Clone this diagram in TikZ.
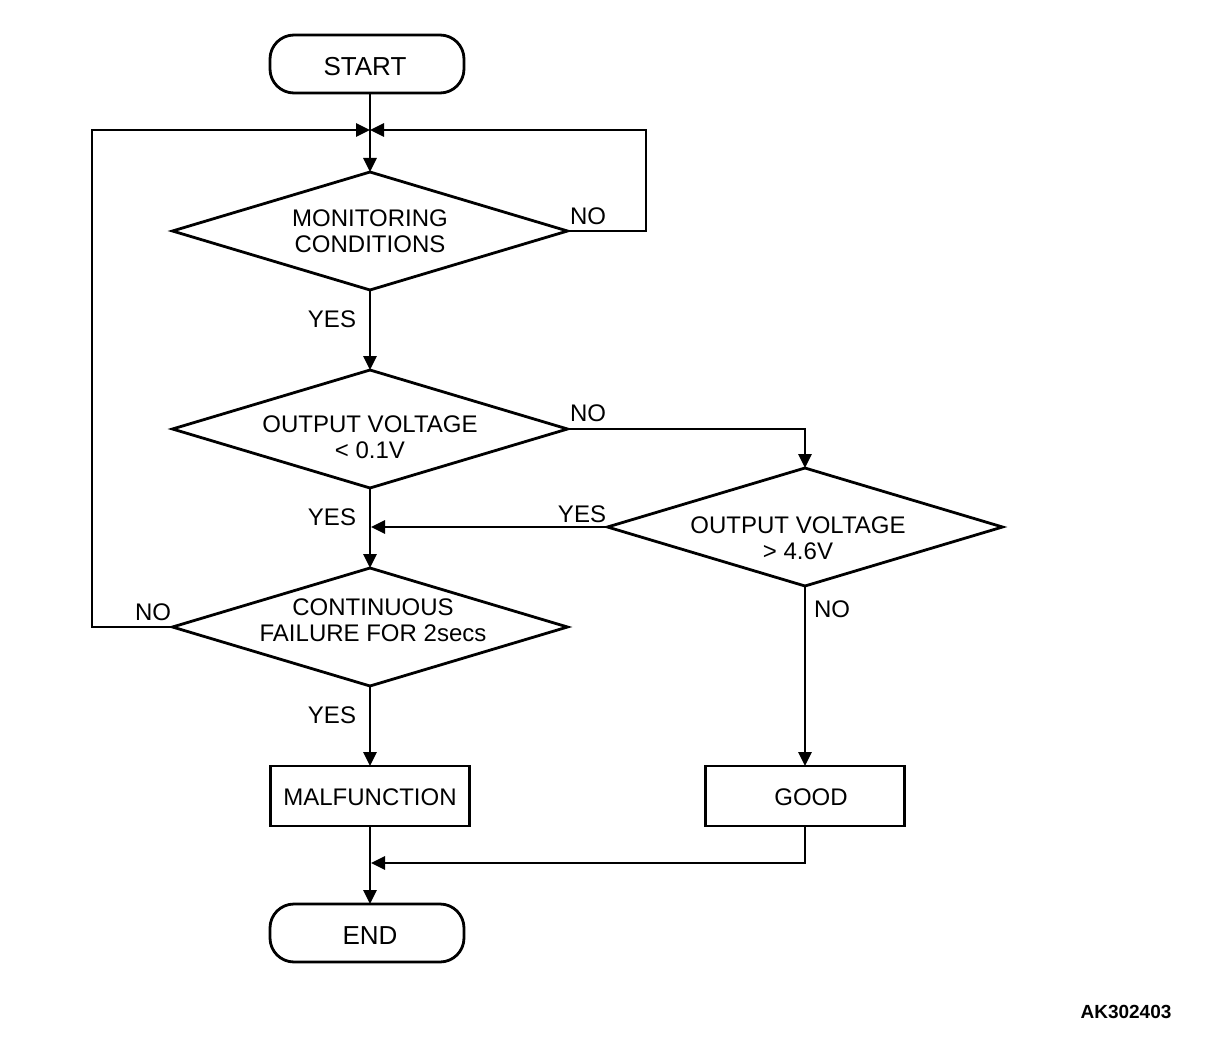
\documentclass[tikz,border=0pt]{standalone}
\usepackage{fontspec}
\setmainfont{Liberation Sans}
\usetikzlibrary{shapes.geometric,arrows.meta}
\begin{document}
\begin{tikzpicture}[x=1pt,y=-1pt,
  line width=2.8pt,
  every node/.style={inner sep=0pt,outer sep=0pt},
  txt/.style={font=\fontsize{24}{26}\selectfont,align=center},
  lbl/.style={font=\fontsize{24}{26}\selectfont},
  termtxt/.style={font=\fontsize{26}{28}\selectfont},
  term/.style={draw,rounded corners=24pt,minimum width=194pt,minimum height=58pt},
  proc/.style={draw,minimum width=199pt,minimum height=60pt},
  dia/.style={draw,diamond,minimum width=395pt,minimum height=118pt},
  arr/.style={-{Triangle[length=14pt,width=13pt]}}]
\useasboundingbox (0,0) rectangle (1216,1054);

\node[term] (start) at (367,64) {};
\node[termtxt] (startT) at (365,67) {START};
\coordinate (J) at (370,130);
\node[dia] (d1) at (370,231) {};
\node[txt] (d1T) at (370,231) {MONITORING\\CONDITIONS};
\node[dia] (d2) at (370,429) {};
\node[txt] (d2T) at (370,437) {OUTPUT VOLTAGE\\< 0.1V};
\node[dia] (d3) at (805,527) {};
\node[txt] (d3T) at (798,538) {OUTPUT VOLTAGE\\> 4.6V};
\node[dia] (d4) at (370,627) {};
\node[txt] (d4T) at (373,620) {CONTINUOUS\\FAILURE FOR 2secs};
\node[proc] (malf) at (370,796) {};
\node[txt] (malfT) at (370,797) {MALFUNCTION};
\node[proc] (good) at (805,796) {};
\node[txt] (goodT) at (811,797) {GOOD};
\node[term] (end) at (367,933) {};
\node[termtxt] (endT) at (370,936) {END};

\coordinate (R1) at (646,231);
\coordinate (R1t) at (646,130);
\coordinate (L1) at (92,627);
\coordinate (L1t) at (92,130);
\coordinate (J2) at (371,527);
\coordinate (J3) at (371,863);
\coordinate (G1) at (805,863);

% connectors
\draw[arr] (start.south -| J) -- (d1.north);
\draw[arr] (d1.east) -- (R1) -- (R1t) -- (J);
\draw[arr] (d4.west) -- (L1) -- (L1t) -- (J);
\draw[arr] (d1.south) -- (d2.north);
\draw[arr] (d2.east) -- (d2.east -| d3.north) -- (d3.north);
\draw[arr] (d2.south) -- (d4.north);
\draw[arr] (d3.west) -- (J2);
\draw[arr] (d4.south) -- (malf.north);
\draw[arr] (d3.south) -- (good.north);
\draw[arr] (good.south) -- (G1) -- (J3);
\draw[arr] (malf.south) -- (malf.south |- end.north);

% labels
\node[lbl] (n1) at (588,216) {NO};
\node[lbl] (y1) at (332,319) {YES};
\node[lbl] (n2) at (588,413) {NO};
\node[lbl] (y2) at (332,517) {YES};
\node[lbl] (y3) at (582,514) {YES};
\node[lbl] (n3) at (832,609) {NO};
\node[lbl] (n4) at (153,612) {NO};
\node[lbl] (y4) at (332,715) {YES};
\node[font=\fontsize{19}{21}\selectfont\bfseries] (id) at (1126,1012) {AK302403};
\end{tikzpicture}
\end{document}
